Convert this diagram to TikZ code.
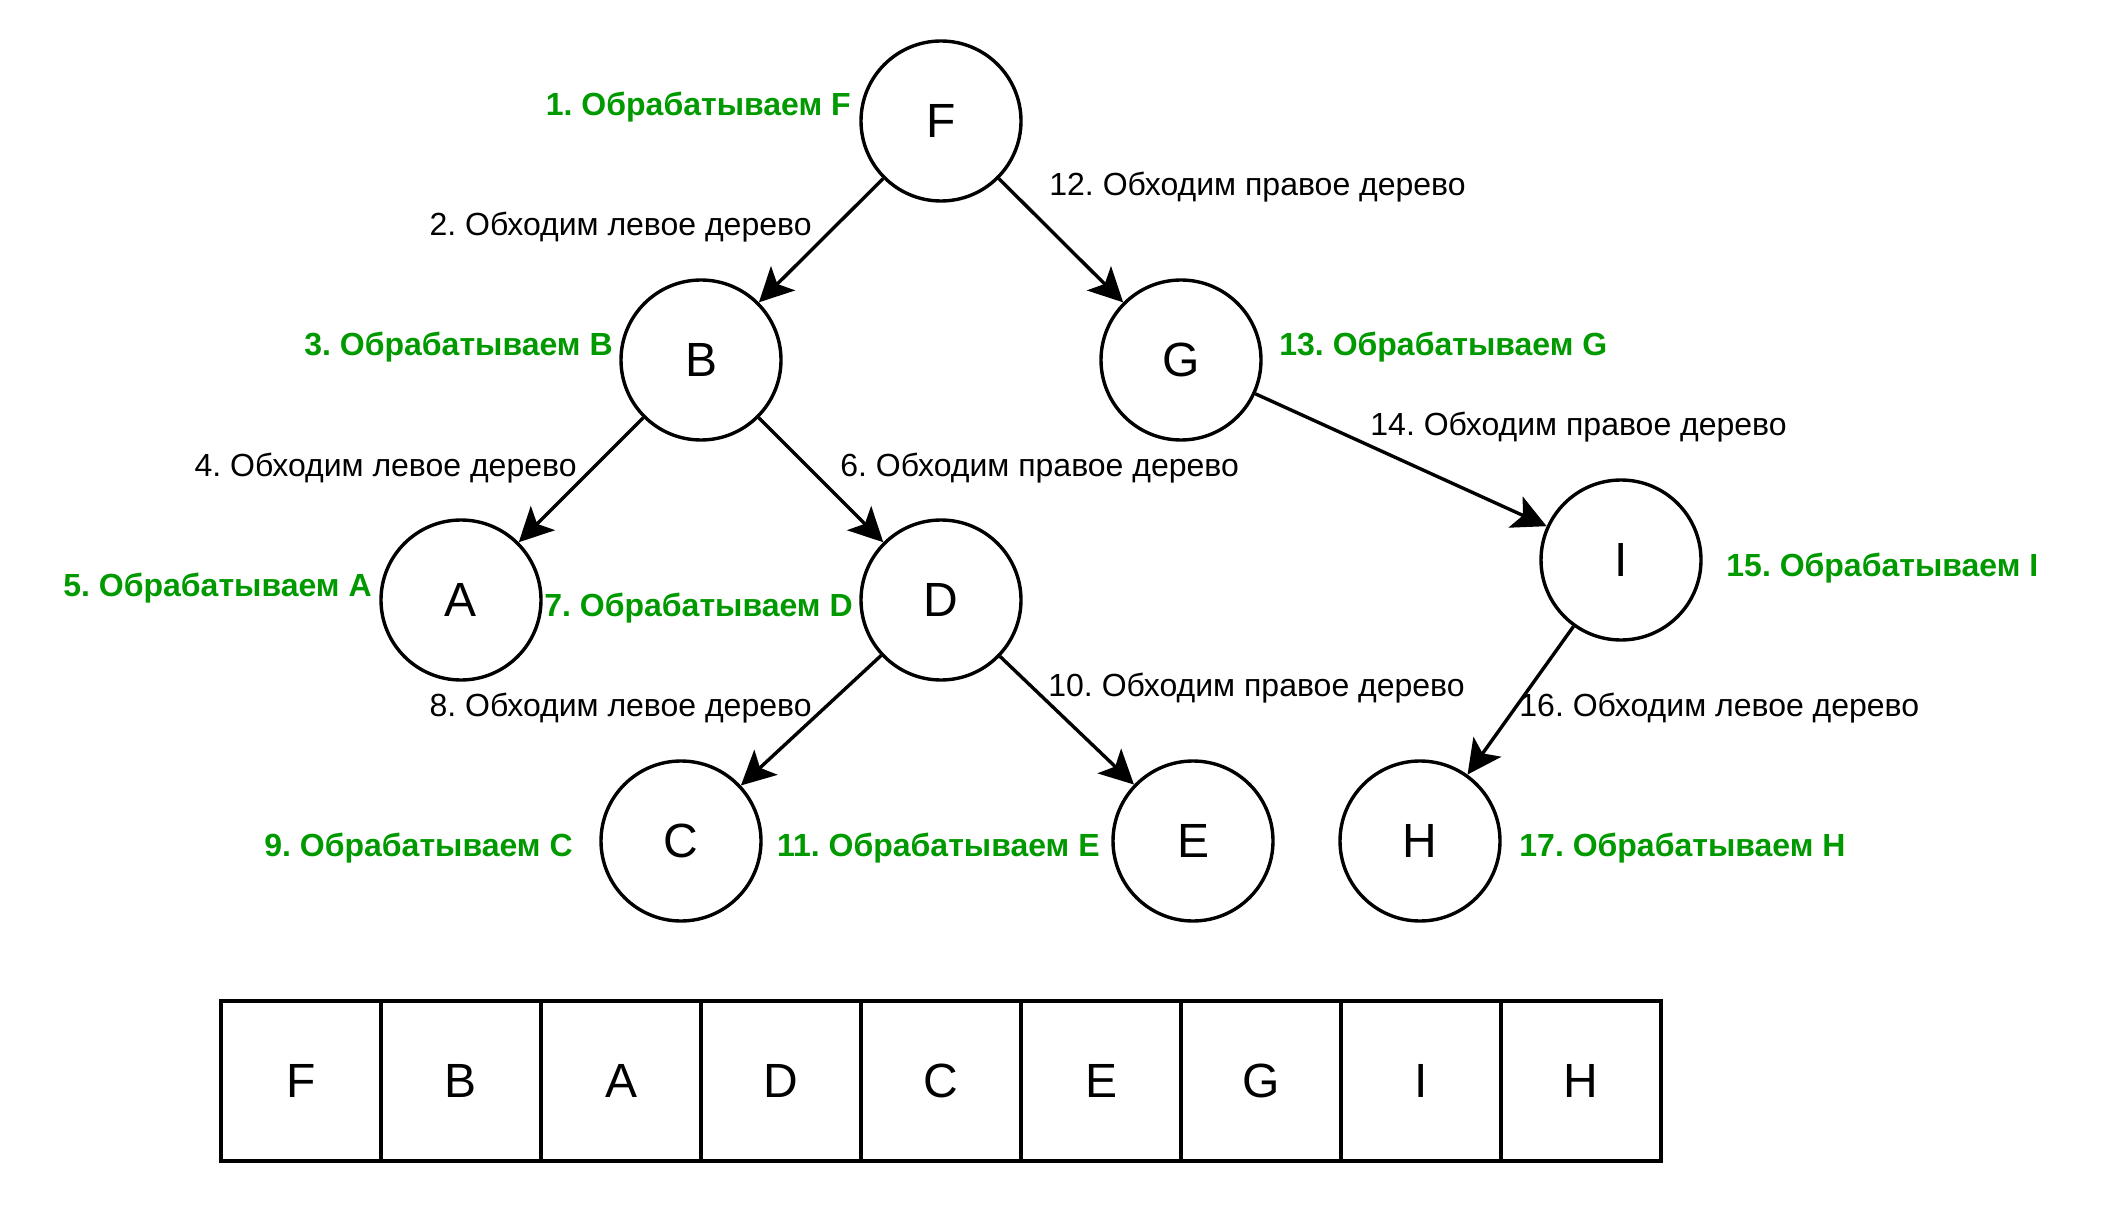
\documentclass[tikz,border=0pt]{standalone}
\usepackage{fontspec}
\setmainfont{Liberation Sans}
\frenchspacing
\usetikzlibrary{arrows.meta}
\definecolor{grn}{RGB}{0,153,0}
\tikzset{
  vert/.style={circle,draw,line width=1.7pt,minimum size=80pt,inner sep=0pt,font=\fontsize{24pt}{28pt}\selectfont},
  cell/.style={rectangle,draw,line width=1.6pt,minimum size=80pt,inner sep=0pt,font=\fontsize{24pt}{28pt}\selectfont},
  edge/.style={line width=1.7pt,-{Stealth[length=17pt,width=17pt,inset=4pt]}},
  walk/.style={inner sep=0pt,font=\fontsize{16pt}{19pt}\selectfont\frenchspacing,text height=11.5pt,text depth=3.5pt},
  proc/.style={walk,text=grn,font=\fontsize{16pt}{19pt}\selectfont\bfseries\frenchspacing}
}
\begin{document}
\begin{tikzpicture}[x=0.5pt,y=-0.5pt]
\useasboundingbox (0,0) rectangle (2104,1208);
% tree vertices
\node[vert] (F) at (941,121) {F};
\node[vert] (B) at (701,360) {B};
\node[vert] (G) at (1181,360) {G};
\node[vert] (A) at (461,600) {A};
\node[vert] (D) at (941,600) {D};
\node[vert] (I) at (1621,560) {I};
\node[vert] (C) at (681,841) {C};
\node[vert] (E) at (1193,841) {E};
\node[vert] (H) at (1420,841) {H};
% edges
\draw[edge] (F) -- (B);
\draw[edge] (F) -- (G);
\draw[edge] (B) -- (A);
\draw[edge] (B) -- (D);
\draw[edge] (D) -- (C);
\draw[edge] (D) -- (E);
\draw[edge] (G) -- (I);
\draw[edge] (I) -- (H);
% labels
\node[proc,anchor=east] (l1) at (851,108) {1. Обрабатываем F};
\node[walk,anchor=east] (l2) at (812,228) {2. Обходим левое дерево};
\node[proc,anchor=east] (l3) at (613,348) {3. Обрабатываем B};
\node[walk,anchor=east] (l4) at (577,468) {4. Обходим левое дерево};
\node[proc,anchor=east] (l5) at (372,588) {5. Обрабатываем A};
\node[walk,anchor=west] (l6) at (840,468) {6. Обходим правое дерево};
\node[proc,anchor=east] (l7) at (853,608) {7. Обрабатываем D};
\node[walk,anchor=east] (l8) at (812,708) {8. Обходим левое дерево};
\node[proc,anchor=east] (l9) at (573,848) {9. Обрабатываем C};
\node[walk,anchor=west] (l10) at (1048,688) {10. Обходим правое дерево};
\node[proc,anchor=east] (l11) at (1100,848) {11. Обрабатываем E};
\node[walk,anchor=west] (l12) at (1049,188) {12. Обходим правое дерево};
\node[proc,anchor=west] (l13) at (1279,348) {13. Обрабатываем G};
\node[walk,anchor=west] (l14) at (1370,428) {14. Обходим правое дерево};
\node[proc,anchor=west] (l15) at (1726,568) {15. Обрабатываем I};
\node[walk,anchor=west] (l16) at (1519,708) {16. Обходим левое дерево};
\node[proc,anchor=west] (l17) at (1519,848) {17. Обрабатываем H};
% result table
\node[cell] (t1) at (301,1081) {F};
\node[cell] (t2) at (461,1081) {B};
\node[cell] (t3) at (621,1081) {A};
\node[cell] (t4) at (781,1081) {D};
\node[cell] (t5) at (941,1081) {C};
\node[cell] (t6) at (1101,1081) {E};
\node[cell] (t7) at (1261,1081) {G};
\node[cell] (t8) at (1421,1081) {I};
\node[cell] (t9) at (1581,1081) {H};
\end{tikzpicture}
\end{document}
